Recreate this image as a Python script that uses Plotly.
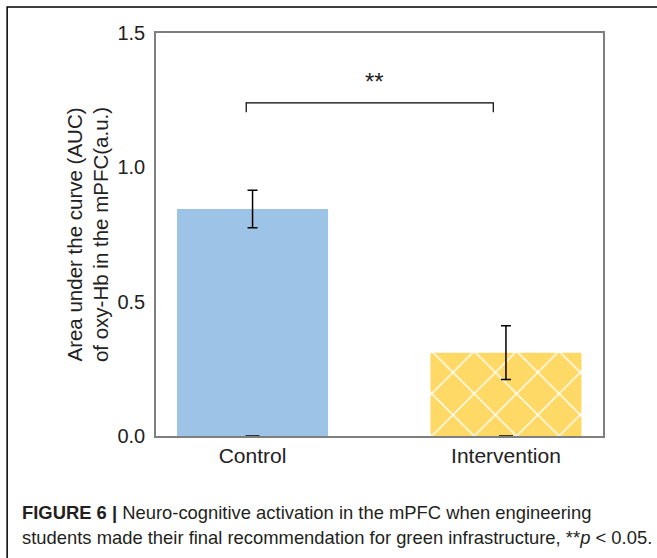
import plotly.graph_objects as go

categories = ["Control", "Intervention"]
auc_values = [0.845, 0.31]
auc_errors = [0.07, 0.10]
bar_colors = ["#9DC3E6", "#FFD966"]
bar_patterns = ["", "x"]
y_ticks = [0.0, 0.5, 1.0, 1.5]
y_tick_labels = ["0.0", "0.5", "1.0", "1.5"]
sig_label = "**"
sig_y = 1.24

fig = go.Figure()
for i in range(len(categories)):
    if bar_patterns[i]:
        marker = dict(color="white", line=dict(width=0),
                      pattern=dict(shape=bar_patterns[i], fgcolor="white", bgcolor=bar_colors[i],
                                   size=30, solidity=0.09, fillmode="replace"))
    else:
        marker = dict(color=bar_colors[i], line=dict(width=0))
    fig.add_trace(go.Bar(
        x=[i], y=[auc_values[i]], width=0.596, marker=marker,
        error_y=dict(type="data", array=[auc_errors[i]], color="black", thickness=1.5, width=5),
        showlegend=False, hoverinfo="skip",
    ))
# small baseline caps under each bar
fig.add_trace(go.Scatter(
    x=list(range(len(categories))), y=[0] * len(categories), mode="markers",
    marker=dict(symbol="line-ew", size=10, line=dict(color="black", width=1.5)),
    showlegend=False, hoverinfo="skip", cliponaxis=False,
))

# significance bracket
fig.add_shape(type="path", xref="x", yref="y",
              path=f"M -0.025 {sig_y-0.035} L -0.025 {sig_y} L 0.95 {sig_y} L 0.95 {sig_y-0.035}",
              line=dict(color="black", width=1.2))
fig.add_annotation(x=0.48, y=sig_y + 0.08, xref="x", yref="y", text=sig_label,
                   showarrow=False, font=dict(size=24, color="#222", family="Liberation Sans"))

# outer figure frame
fig.add_shape(type="rect", xref="paper", yref="paper",
              x0=-0.333, y0=-0.35, x1=1.2, y1=1.0645,
              line=dict(color="black", width=1.5), layer="below")

# caption
fig.add_annotation(xref="paper", yref="paper", x=-0.304, y=-0.191, xanchor="left", yanchor="middle",
                   align="left", showarrow=False,
                   text="<b>FIGURE 6 |</b> Neuro-cognitive activation in the mPFC when engineering",
                   font=dict(size=18.4, color="#231f20", family="Liberation Sans"))
fig.add_annotation(xref="paper", yref="paper", x=-0.304, y=-0.251, xanchor="left", yanchor="middle",
                   align="left", showarrow=False,
                   text="students made their final recommendation for green infrastructure, **<i>p</i> &lt; 0.05.",
                   font=dict(size=18.4, color="#231f20", family="Liberation Sans"))

fig.update_layout(
    width=657, height=558,
    margin=dict(l=156, r=54, t=33, b=122),
    paper_bgcolor="white", plot_bgcolor="white",
    font=dict(family="Liberation Sans", color="#222"),
    barmode="overlay",
    xaxis=dict(range=[-0.381, 1.383], tickvals=list(range(len(categories))), ticktext=categories,
               showgrid=False, zeroline=False, showline=True, mirror=True,
               linecolor="#7f7f7f", linewidth=1.5, ticks="", tickfont=dict(size=21, color="#222")),
    yaxis=dict(range=[0, 1.5], tickvals=y_ticks, ticktext=y_tick_labels,
               showgrid=False, zeroline=False, showline=True, mirror=True,
               linecolor="#7f7f7f", linewidth=1.5, ticks="", ticklen=0,
               ticklabelstandoff=5,
               tickfont=dict(size=20, color="#222"),
               title=dict(text="Area under the curve (AUC)<br>of oxy-Hb in the mPFC(a.u.)",
                          font=dict(size=20.5, color="#222"), standoff=3)),
)

fig.write_html("out.html", config={"displayModeBar": False},
               post_script="document.body.style.margin='0';")
